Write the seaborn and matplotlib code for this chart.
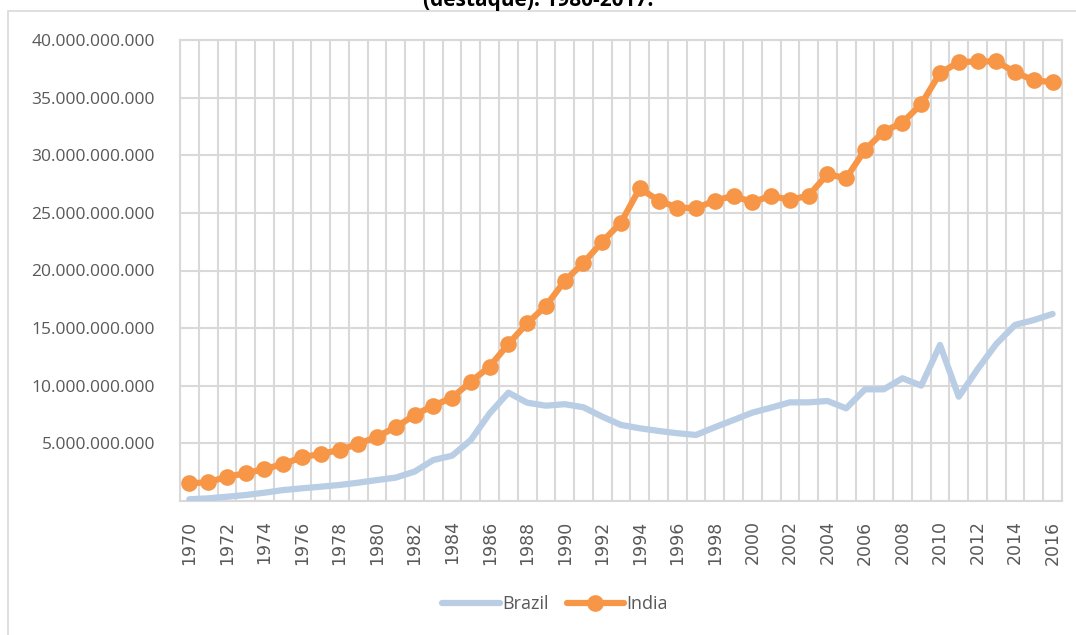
import numpy as np
import pandas as pd
import seaborn as sns
import matplotlib.pyplot as plt
from matplotlib.ticker import FuncFormatter, MultipleLocator
from matplotlib.patches import Rectangle

# values (billions)
years = list(range(1970, 2017))
brazil = [0.15, 0.23, 0.37, 0.52, 0.72, 0.95, 1.10, 1.24, 1.39, 1.59,
          1.82, 2.03, 2.55, 3.56, 3.93, 5.30, 7.60, 9.40, 8.53, 8.27,
          8.40, 8.13, 7.32, 6.60, 6.31, 6.08, 5.88, 5.73, 6.40, 7.03,
          7.67, 8.10, 8.56, 8.56, 8.68, 8.04, 9.69, 9.69, 10.65, 10.01,
          13.54, 9.05, 11.43, 13.63, 15.28, 15.70, 16.23]
india = [1.54, 1.62, 2.11, 2.40, 2.78, 3.20, 3.80, 4.08, 4.43, 4.95,
         5.58, 6.40, 7.47, 8.27, 8.97, 10.36, 11.66, 13.63, 15.42, 16.93,
         19.10, 20.66, 22.50, 24.16, 27.14, 26.07, 25.46, 25.40, 26.07, 26.48,
         25.93, 26.48, 26.13, 26.50, 28.36, 28.01, 30.47, 32.06, 32.84, 34.44,
         37.13, 38.08, 38.14, 38.14, 37.21, 36.49, 36.35]

df = pd.DataFrame({
    'year': years * 2,
    'value': [v * 1e9 for v in brazil] + [v * 1e9 for v in india],
    'country': ['Brazil'] * len(years) + ['India'] * len(years),
})

sns.set_style('white')
plt.rcParams['font.family'] = ['Open Sans', 'DejaVu Sans']

fig = plt.figure(figsize=(10.76, 6.35), dpi=100)
ax = fig.add_axes([180 / 1076, 1 - 501 / 635, (1062 - 180) / 1076, (501 - 40) / 635])

# outer chart border
fig.patches.append(Rectangle((8 / 1076, -0.05), 1.1, 1 - 11 / 635 + 0.05,
                             transform=fig.transFigure, fill=False,
                             edgecolor='#d9d9d9', linewidth=1.2))

sns.lineplot(data=df[df.country == 'Brazil'], x='year', y='value', ax=ax,
             color='#b9cde5', linewidth=4.5, label='Brazil', zorder=3)
sns.lineplot(data=df[df.country == 'India'], x='year', y='value', ax=ax,
             color='#f79646', linewidth=4.5, marker='o', markersize=12,
             markeredgewidth=0, label='India', zorder=4)

ax.set_xlim(1969.5, 2016.5)
ax.set_ylim(0, 40e9)
ax.yaxis.set_major_locator(MultipleLocator(5e9))
ax.yaxis.set_major_formatter(FuncFormatter(
    lambda v, p: '' if v == 0 else f'{int(round(v)):,}'.replace(',', '.')))
ax.set_xticks(years[::2])
ax.set_xticklabels([str(y) for y in years[::2]], rotation=90,
                   family='DejaVu Sans', fontsize=12.5, color='#595959')
ax.xaxis.set_minor_locator(MultipleLocator(1))
ax.set_xticks(np.arange(1969.5, 2017, 1), minor=True)
ax.grid(True, which='minor', axis='x', color='#d9d9d9', linewidth=1.5)
ax.grid(True, which='major', axis='y', color='#d9d9d9', linewidth=1.5)
ax.grid(False, which='major', axis='x')
ax.tick_params(axis='y', labelsize=12.5, labelcolor='#595959', length=0, pad=18)
ax.tick_params(axis='x', which='both', length=0, pad=14)
for s in ax.spines.values():
    s.set_color('#d9d9d9')
    s.set_linewidth(1.5)
ax.set_xlabel('')
ax.set_ylabel('')

ax.legend(loc='center', bbox_to_anchor=(555 / 1076, 1 - 604 / 635),
          bbox_transform=fig.transFigure, ncol=2, frameon=False,
          fontsize=13, labelcolor='#595959', handlelength=3.2,
          handletextpad=0.1, columnspacing=1.0)

fig.text(0.5, 1 - 6 / 635, '(destaque). 1980-2017.', ha='center', va='baseline',
         fontsize=15, fontweight='bold', color='black')

fig.savefig('out.png', dpi=100)
